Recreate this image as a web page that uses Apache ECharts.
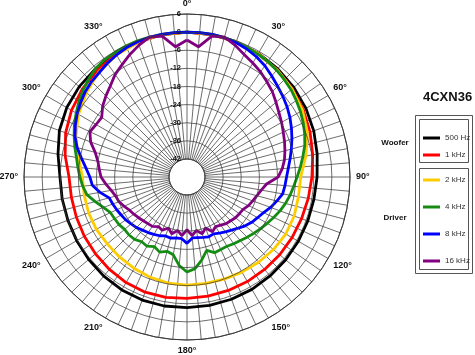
<!DOCTYPE html>
<html><head><meta charset="utf-8">
<script src="https://cdn.jsdelivr.net/npm/echarts@6/dist/echarts.min.js"></script>
<style>html,body{margin:0;padding:0;background:#fff}#c{width:475px;height:355px}</style>
</head><body><div id="c"></div>
<script>
// ---- data (dB relative) ----
const anglesCoarse = [0,10,20,30,40,50,60,70,80,90,100,110,120,130,140,150,160,170,180,190,200,210,220,230,240,250,260,270,280,290,300,310,320,330,340,350,360];
const anglesFine = [0,5,10,15,20,25,30,35,40,45,50,55,60,65,70,75,80,85,90,95,100,105,110,115,120,125,130,135,140,145,150,155,160,165,170,175,180,185,190,195,200,205,210,215,220,225,230,235,240,245,250,255,260,265,270,275,280,285,290,295,300,305,310,315,320,325,330,335,340,345,350,355,360];
const db500Hz = [0,-0.1,-0.3,-0.7,-1.2,-1.8,-2.5,-3.3,-4.2,-4.9,-5.3,-5.4,-5.4,-5.3,-5.2,-5.0,-4.9,-4.8,-4.7,-4.6,-4.6,-4.8,-5.1,-5.5,-5.8,-6.0,-6.0,-5.9,-4.6,-3.0,-2.0,-1.4,-1.0,-0.6,-0.3,-0.1,0];
const db1kHz = [0,-0.1,-0.4,-0.9,-1.6,-2.5,-3.5,-4.6,-5.7,-6.6,-7.2,-7.6,-7.8,-7.9,-8.0,-8.0,-8.0,-7.9,-7.8,-7.5,-7.4,-7.6,-8.0,-8.4,-8.7,-9.0,-9.1,-8.9,-7.0,-5.2,-3.8,-2.7,-1.8,-1.0,-0.5,-0.1,0];
const db2kHz = [0,0,-0.3,-0.8,-1.6,-2.6,-3.8,-5.5,-8.0,-10.3,-10.5,-10.2,-10.2,-10.6,-11.1,-11.6,-12.0,-12.2,-12.2,-12.3,-12.6,-13.0,-13.3,-13.5,-13.3,-13.3,-13.4,-13.3,-11.5,-8.8,-6.5,-4.5,-2.6,-1.3,-0.5,0,0];
const db4kHz = [0,0,0,-0.2,-0.4,-0.7,-1.0,-1.3,-1.8,-2.4,-3.0,-3.8,-4.6,-5.5,-6.5,-7.6,-9.0,-10.3,-11.5,-12.5,-13.3,-14.2,-15.2,-16.3,-17.3,-18.2,-19.0,-19.8,-20.5,-21.0,-21.5,-21.5,-21.3,-22.8,-20.0,-17.5,-16.5,-18.5,-21.8,-22.5,-21.5,-22.5,-21.5,-21.8,-21.0,-20.8,-21.0,-20.5,-20.3,-20.0,-18.5,-16.5,-14.3,-13.3,-12.5,-11.7,-10.8,-9.5,-8.2,-6.8,-5.6,-4.3,-3.1,-2.0,-1.0,-0.5,-0.3,-0.1,0,0,0,0,0];
const db8kHz = [0,0,0,-0.2,-0.6,-1.2,-2.0,-3.0,-4.3,-5.5,-6.5,-7.5,-8.6,-9.8,-11.0,-12.2,-13.3,-14.3,-15.0,-15.4,-15.8,-17.2,-18.5,-20.0,-21.0,-21.8,-22.8,-24.0,-25.0,-25.8,-26.5,-27.2,-26.9,-27.3,-27.6,-27.7,-26.0,-27.5,-27.5,-27.0,-27.2,-26.5,-26.0,-25.5,-25.0,-24.3,-23.8,-23.2,-22.8,-22.3,-21.8,-21.3,-18.7,-16.5,-15.8,-14.4,-12.5,-10.3,-8.5,-7.2,-6.0,-5.0,-4.0,-3.3,-2.8,-2.0,-1.3,-0.7,-0.3,-0.1,0,0,0];
const db16kHz = [-2.6,-4.7,-0.6,0,-1.5,-3.2,-4.4,-5.5,-6.8,-8.0,-9.5,-10.8,-11.8,-12.8,-13.6,-14.4,-15.2,-16.3,-17.8,-21.5,-23.0,-24.0,-24.8,-25.5,-26.5,-26.8,-27.0,-27.5,-27.8,-28.5,-29.0,-28.0,-30.0,-28.5,-30.0,-28.5,-30.5,-28.5,-30.0,-28.5,-30.0,-28.5,-29.0,-28.0,-27.8,-27.5,-27.0,-26.5,-26.0,-25.0,-24.0,-23.5,-22.5,-21.0,-19.5,-18.8,-18.0,-16.5,-14.0,-12.5,-13.2,-13.5,-11.5,-10.0,-8.5,-6.5,-5.0,-3.2,-1.5,0,-0.6,-4.7,-2.6];
const seriesNames = ['500 Hz','1 kHz','2 kHz','4 kHz','8 kHz','16 kHz'];
const wooferNames = ['500 Hz','1 kHz'];
const driverNames = ['2 kHz','4 kHz','8 kHz','16 kHz'];
const radiusTicks = [-42,-36,-30,-24,-18,-12,-6,0,6];
const title = '4CXN36';

const colors = ['#000000','#ff0000','#ffcc00','#148c14','#0000ff','#800080'];
const seriesData = [
  [anglesCoarse, db500Hz],[anglesCoarse, db1kHz],[anglesCoarse, db2kHz],
  [anglesFine, db4kHz],[anglesFine, db8kHz],[anglesFine, db16kHz]
];

const chart = echarts.init(document.getElementById('c'), null, {renderer:'canvas'});
const font = 'Liberation Sans, Arial, sans-serif';
chart.setOption({
  animation:false,
  backgroundColor:'#fff',
  textStyle:{fontFamily:font},
  title:{text:title,left:423,top:91,padding:0,textStyle:{fontSize:13,fontWeight:'bold',color:'#111',fontFamily:font}},
  polar:{center:[187,177],radius:[18,163]},
  angleAxis:{
    type:'value',min:0,max:360,interval:5,startAngle:90,clockwise:true,
    axisLine:{show:true,lineStyle:{color:'#333',width:1}},
    axisTick:{show:false},
    splitLine:{show:true,lineStyle:{color:'#3c3c3c',width:0.75}},
    axisLabel:{margin:6,fontSize:9,fontWeight:'bold',color:'#111',fontFamily:font,
      formatter:v=>(v%30===0&&v<360)?v+'°':''}
  },
  radiusAxis:{
    type:'value',min:radiusTicks[0],max:radiusTicks[radiusTicks.length-1],interval:6,
    axisLine:{show:false},axisTick:{show:false},
    splitLine:{show:true,lineStyle:{color:'#3c3c3c',width:0.75}},
    axisLabel:{margin:6,fontSize:7.5,fontWeight:'bold',color:'#111',fontFamily:font},
    z:10
  },
  legend:[
    {data:wooferNames,orient:'vertical',left:423,top:133,padding:0,itemGap:7,itemWidth:17,itemHeight:3,icon:'rect',
     textStyle:{fontSize:8,color:'#333',lineHeight:10,fontFamily:font},selectedMode:false},
    {data:driverNames,orient:'vertical',left:423,top:175,padding:0,itemGap:17,itemWidth:17,itemHeight:3,icon:'rect',
     textStyle:{fontSize:8,color:'#333',lineHeight:10,fontFamily:font},selectedMode:false}
  ],
  graphic:[
    {type:'rect',shape:{x:415.5,y:115.5,width:57,height:158},style:{fill:'none',stroke:'#555',lineWidth:1}},
    {type:'rect',shape:{x:419.5,y:119.5,width:49,height:43},style:{fill:'none',stroke:'#555',lineWidth:1}},
    {type:'rect',shape:{x:419.5,y:168.5,width:49,height:101},style:{fill:'none',stroke:'#555',lineWidth:1}},
    {type:'text',x:395,y:143,style:{text:'Woofer',fill:'#111',font:'bold 8px '+font,textAlign:'center',textVerticalAlign:'middle'}},
    {type:'text',x:395,y:218,style:{text:'Driver',fill:'#111',font:'bold 8px '+font,textAlign:'center',textVerticalAlign:'middle'}}
  ],
  series:seriesNames.map((n,i)=>({
    name:n,type:'line',coordinateSystem:'polar',showSymbol:false,symbol:'none',
    color:colors[i],lineStyle:{width:2.8,color:colors[i]},
    data:seriesData[i][0].map((a,k)=>[seriesData[i][1][k],a]),
    z:2+i
  }))
});
</script></body></html>
